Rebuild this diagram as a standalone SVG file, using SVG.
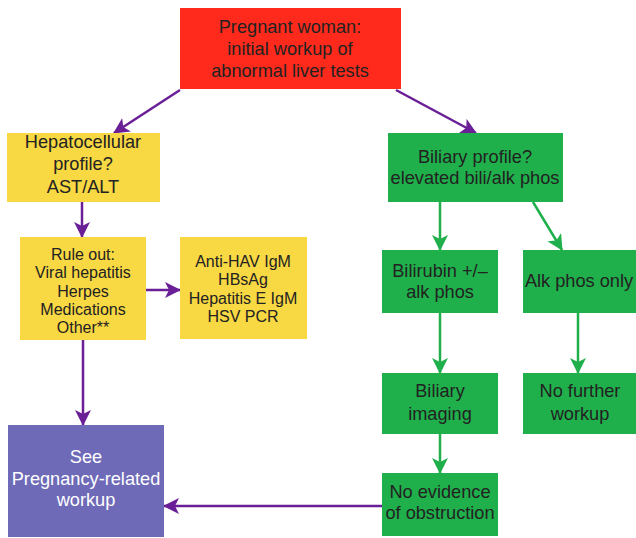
<svg xmlns="http://www.w3.org/2000/svg" width="636" height="538" viewBox="0 0 636 538">
<style>
text{font-family:"Liberation Sans",Arial,sans-serif;font-size:18.2px;fill:#222;text-anchor:middle}
.sm{font-size:16px}
.w{fill:#fff}
.red{fill:#FF2A1C}
.yel{fill:#F8D843}
.grn{fill:#1FB04B}
.pur{fill:#6E6AB7}
.pl{stroke:#6A1F96;stroke-width:2.5;fill:none}
.gl{stroke:#1FB04B;stroke-width:2.5;fill:none}
</style>
<defs>
<marker id="ap" markerUnits="userSpaceOnUse" markerWidth="18" markerHeight="18" refX="15" refY="8" orient="auto"><path d="M0,0 L16,8 L0,16 L4,8 z" fill="#6A1F96"/></marker>
<marker id="ag" markerUnits="userSpaceOnUse" markerWidth="18" markerHeight="18" refX="15" refY="8" orient="auto"><path d="M0,0 L16,8 L0,16 L4,8 z" fill="#1FB04B"/></marker>
</defs>
<g id="connectors">
<line class="pl" x1="180" y1="90" x2="114" y2="133" marker-end="url(#ap)"/>
<line class="pl" x1="396" y1="90" x2="476" y2="133" marker-end="url(#ap)"/>
<line class="pl" x1="82" y1="202" x2="82" y2="237" marker-end="url(#ap)"/>
<line class="pl" x1="146" y1="290" x2="180" y2="290" marker-end="url(#ap)"/>
<line class="pl" x1="83" y1="340" x2="83" y2="425" marker-end="url(#ap)"/>
<line class="pl" x1="382" y1="506" x2="164" y2="506" marker-end="url(#ap)"/>
<line class="gl" x1="440" y1="202" x2="440" y2="250" marker-end="url(#ag)"/>
<line class="gl" x1="533" y1="202" x2="562" y2="250" marker-end="url(#ag)"/>
<line class="gl" x1="440" y1="313" x2="440" y2="373" marker-end="url(#ag)"/>
<line class="gl" x1="578" y1="313" x2="578" y2="373" marker-end="url(#ag)"/>
<line class="gl" x1="440" y1="434" x2="440" y2="473" marker-end="url(#ag)"/>
</g>
<g id="start">
<rect class="red" x="180" y="8" width="221" height="81"/>
<text x="290" y="33">Pregnant woman:</text>
<text x="290" y="55">initial workup of</text>
<text x="290" y="77">abnormal liver tests</text>
</g>
<g id="hepato">
<rect class="yel" x="7" y="133" width="153" height="69"/>
<text x="83" y="148">Hepatocellular</text>
<text x="83" y="170">profile?</text>
<text x="83" y="193">AST/ALT</text>
</g>
<g id="ruleout">
<rect class="yel" x="20" y="237" width="126" height="103"/>
<text class="sm" x="83" y="260">Rule out:</text>
<text class="sm" x="83" y="278">Viral hepatitis</text>
<text class="sm" x="83" y="297">Herpes</text>
<text class="sm" x="83" y="315">Medications</text>
<text class="sm" x="83" y="333">Other**</text>
</g>
<g id="tests">
<rect class="yel" x="180" y="237" width="127" height="102"/>
<text class="sm" x="243" y="267">Anti-HAV IgM</text>
<text class="sm" x="243" y="285">HBsAg</text>
<text class="sm" x="243" y="304">Hepatitis E IgM</text>
<text class="sm" x="243" y="322">HSV PCR</text>
</g>
<g id="biliary">
<rect class="grn" x="388" y="133" width="175" height="69"/>
<text x="475" y="163">Biliary profile?</text>
<text x="475" y="184">elevated bili/alk phos</text>
</g>
<g id="bilirubin">
<rect class="grn" x="382" y="250" width="116" height="63"/>
<text x="440" y="277">Bilirubin +/–</text>
<text x="440" y="298">alk phos</text>
</g>
<g id="alkonly">
<rect class="grn" x="523" y="250" width="113" height="63"/>
<text x="579" y="287">Alk phos only</text>
</g>
<g id="imaging">
<rect class="grn" x="382" y="373" width="116" height="61"/>
<text x="440" y="397">Biliary</text>
<text x="440" y="420">imaging</text>
</g>
<g id="nofurther">
<rect class="grn" x="523" y="373" width="113" height="61"/>
<text x="580" y="397">No further</text>
<text x="580" y="420">workup</text>
</g>
<g id="noevidence">
<rect class="grn" x="382" y="473" width="116" height="63"/>
<text x="440" y="498">No evidence</text>
<text x="440" y="519">of obstruction</text>
</g>
<g id="see">
<rect class="pur" x="8" y="425" width="156" height="112"/>
<text class="w" x="86" y="463">See</text>
<text class="w" x="86" y="485">Pregnancy-related</text>
<text class="w" x="86" y="506">workup</text>
</g>
</svg>
